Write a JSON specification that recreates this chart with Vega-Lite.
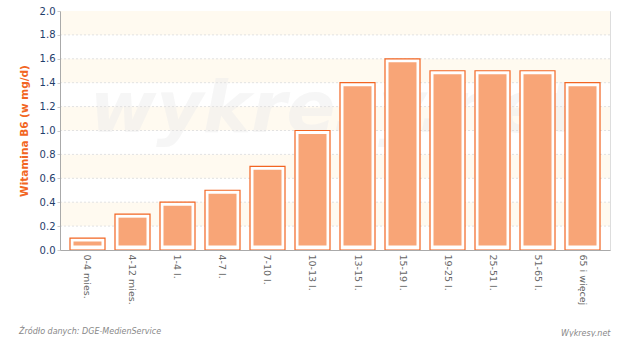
{
  "$schema": "https://vega.github.io/schema/vega-lite/v6.json",
  "width": 550,
  "height": 239,
  "autosize": {"type": "none"},
  "padding": {"left": 60, "top": 11, "right": 10, "bottom": 87},
  "background": "white",
  "config": {
    "view": {"stroke": "#dddddd"},
    "font": "DejaVu Sans",
    "axis": {"labelOverlap": false}
  },
  "title": {
    "text": "Źródło danych: DGE-MedienService",
    "orient": "bottom",
    "anchor": "start",
    "frame": "bounds",
    "fontSize": 8,
    "fontStyle": "italic",
    "fontWeight": "normal",
    "color": "#888888",
    "offset": -10
  },
  "datasets": {
    "bands": [
      {"v": 0.2, "hi": 0.4},
      {"v": 0.6, "hi": 0.8},
      {"v": 1.0, "hi": 1.2},
      {"v": 1.4, "hi": 1.6},
      {"v": 1.8, "hi": 2.0}
    ],
    "grid": [
      {"v": 0.2}, {"v": 0.4}, {"v": 0.6}, {"v": 0.8}, {"v": 1.0},
      {"v": 1.2}, {"v": 1.4}, {"v": 1.6}, {"v": 1.8}
    ],
    "mark": [{"t": "wykresy.net", "v": 1.17}],
    "main": [
      {"grupa": "0-4 mies.", "v": 0.1},
      {"grupa": "4-12 mies.", "v": 0.3},
      {"grupa": "1-4 l.", "v": 0.4},
      {"grupa": "4-7 l.", "v": 0.5},
      {"grupa": "7-10 l.", "v": 0.7},
      {"grupa": "10-13 l.", "v": 1.0},
      {"grupa": "13-15 l.", "v": 1.4},
      {"grupa": "15-19 l.", "v": 1.6},
      {"grupa": "19-25 l.", "v": 1.5},
      {"grupa": "25-51 l.", "v": 1.5},
      {"grupa": "51-65 l.", "v": 1.5},
      {"grupa": "65 i więcej", "v": 1.4}
    ]
  },
  "encoding": {
    "y": {
      "field": "v", "type": "quantitative", "scale": {"domain": [0, 2]},
      "axis": {
        "title": "Witamina B6 (w mg/d)", "titleColor": "#f26522", "titleFontSize": 10.5, "titleFontWeight": "bold",
        "titlePadding": 10, "tickCount": 30, "values": [0, 0.2, 0.4, 0.6, 0.8, 1.0, 1.2, 1.4, 1.6, 1.8, 2.0], "format": ".1f",
        "labelColor": "#1f3d6b", "labelFontSize": 10, "labelPadding": 2, "labelOverlap": false, "labelFlush": false,
        "tickSize": 3, "tickColor": "#cccccc",
        "domainColor": "#aaaaaa", "grid": false, "zindex": 1
      }
    }
  },
  "layer": [
    {
      "data": {"name": "bands"},
      "mark": {"type": "rect", "fill": "#fffaf0"},
      "encoding": {
        "y2": {"field": "hi"}
      }
    },
    {
      "data": {"name": "mark"},
      "mark": {"type": "text", "fontSize": 72, "fontWeight": "bold", "fontStyle": "italic", "color": "#eeeeee", "opacity": 0.5, "baseline": "middle", "align": "center"},
      "encoding": {
        "text": {"field": "t"}
      }
    },
    {
      "data": {"name": "grid"},
      "mark": {"type": "rule", "stroke": "#e2e2e2", "strokeDash": [2, 2], "strokeWidth": 1},
      "encoding": {}
    },
    {
      "data": {"name": "main"},
      "mark": {"type": "bar", "fill": "white", "stroke": "#f26522", "strokeWidth": 1.2},
      "encoding": {
        "x": {
          "field": "grupa", "type": "nominal", "sort": null,
          "scale": {"paddingInner": 0.222, "paddingOuter": 0.222},
          "axis": {
            "title": "Wykresy.net", "titleAnchor": "end", "titleFontSize": 8, "titleFontStyle": "italic",
            "titleFontWeight": "normal", "titleColor": "#888888", "titlePadding": 25,
            "labelAngle": 90, "labelAlign": "left", "labelBaseline": "middle", "labelFontSize": 9.5,
            "labelColor": "#666666", "labelPadding": 4, "ticks": false, "domainColor": "#aaaaaa", "grid": false, "zindex": 1
          }
        }
      }
    },
    {
      "data": {"name": "main"},
      "mark": {"type": "bar", "fill": "#f8a577", "width": {"band": 0.8}, "yOffset": 3.5, "y2Offset": -4.5},
      "encoding": {
        "x": {"field": "grupa", "type": "nominal", "sort": null},
        "y2": {"datum": 0}
      }
    }
  ]
}
